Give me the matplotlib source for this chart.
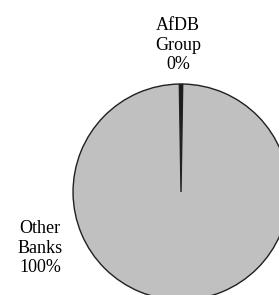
import matplotlib
matplotlib.use("Agg")
import matplotlib.pyplot as plt

categories = ["AfDB\nGroup", "Other\nBanks"]
values = [0.5, 99.5]
pct_labels = ["0%", "100%"]
colors = ["#1a1a1a", "#c0c0c0"]

fig = plt.figure(figsize=(2.79, 2.95), dpi=100)
ax = fig.add_axes([0, 0, 1, 1])
ax.pie(values, colors=colors, startangle=90 + values[0] / 100 * 180,
       counterclock=False,
       wedgeprops=dict(edgecolor="#202020", linewidth=1.0))
ax.set_aspect("equal")
ax.set_xlim(-1.676, 0.907)
ax.set_ylim(-0.954, 1.778)
ax.axis("off")

font = dict(family="Liberation Serif", fontsize=13, ha="center", va="center",
            linespacing=1.2)
ax.text(-0.028, 1.361, categories[0] + "\n" + pct_labels[0], **font)
ax.text(-1.306, -0.519, categories[1] + "\n" + pct_labels[1], **font)

fig.savefig("out.png", dpi=100)
